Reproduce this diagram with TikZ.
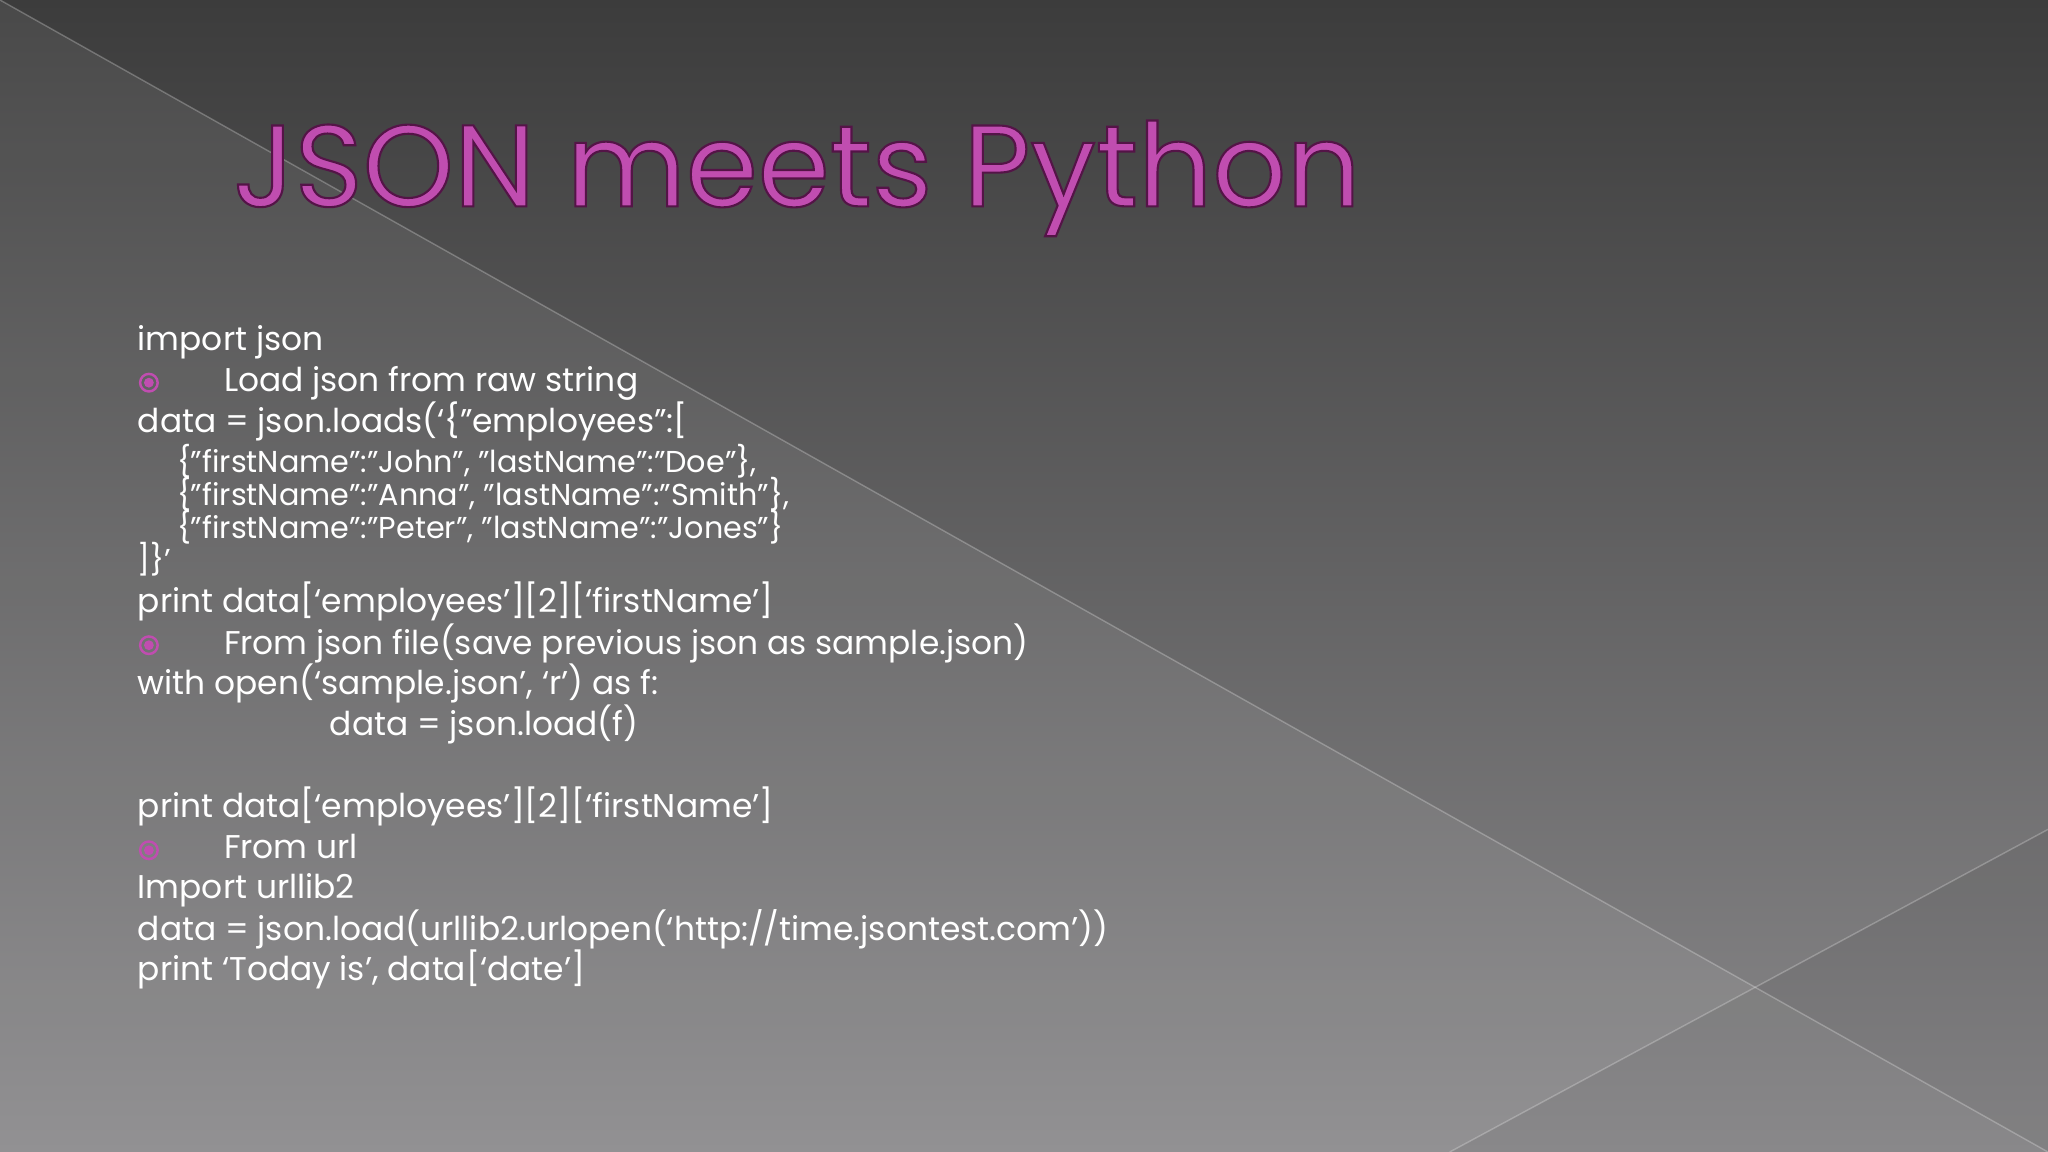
\documentclass[tikz,border=0pt]{standalone}
\usepackage{fontspec}
\setmainfont{Poppins}
\usetikzlibrary{shadings}
\definecolor{mag}{HTML}{C04DB0}
\definecolor{bgtop}{HTML}{3C3C3C}
\definecolor{bgbot}{HTML}{8A898B}
\newcommand\dq{\symbol{34}}
\tikzset{
  body/.style={anchor=base west,text=white,font=\fontsize{9.35}{10}\selectfont,inner sep=0pt},
  small/.style={anchor=base west,text=white,font=\fontsize{8.6}{9}\selectfont,inner sep=0pt},
  bul/.style={circle,draw=mag,line width=0.7pt,minimum size=5pt,inner sep=0pt,path picture={\fill[mag](path picture bounding box.center) circle (1.4pt);}}
}
\begin{document}
\begin{tikzpicture}[x=0.013061cm,y=-0.013061cm]
\useasboundingbox (0,0) rectangle (1568,882);
\shade[top color=bgtop,bottom color=bgbot] (0,0) rectangle (1568,882);
\fill[white,opacity=0.07] (0,0) -- (1568,882) -- (0,882) -- cycle;
\fill[black,opacity=0.06] (1110,882) -- (1568,635) -- (1568,882) -- cycle;
\coordinate (d1) at (0,0); \coordinate (d2) at (1568,882);
\coordinate (e1) at (1110,882); \coordinate (e2) at (1568,635);
\draw[white,opacity=0.25,line width=0.4pt] (d1) -- (d2);
\draw[white,opacity=0.25,line width=0.4pt] (e1) -- (e2);
\node (title) [anchor=base west,inner sep=0pt,font=\fontsize{33}{36}\selectfont,text=mag] at (178,158) {\special{pdf:literal 2 Tr 0.6 w 0.33 0.08 0.28 RG}JSON meets Python\special{pdf:literal 0 Tr}};
\node (l1) [body] at (105,268) {import json};
\node (b1) [bul] at (114,293) {}; \node (l2) [body] at (171,300) {Load json from raw string};
\node (l3) [body] at (105,331) {data = json.loads(‘\{\dq employees\dq:[};
\node (l4) [small] at (135,362) {\{\dq firstName\dq:\dq John\dq, \dq lastName\dq:\dq Doe\dq\},};
\node (l5) [small] at (135,387) {\{\dq firstName\dq:\dq Anna\dq, \dq lastName\dq:\dq Smith\dq\},};
\node (l6) [small] at (135,412) {\{\dq firstName\dq:\dq Peter\dq, \dq lastName\dq:\dq Jones\dq\}};
\node (l7) [small] at (105,437) {]\}’};
\node (l8) [body] at (105,469) {print data[‘employees’][2][‘firstName’]};
\node (b2) [bul] at (114,494) {}; \node (l9) [body] at (171,501) {From json file(save previous json as sample.json)};
\node (l10) [body] at (105,532) {with open(‘sample.json’, ‘r’) as f:};
\node (l11) [body] at (252,563) {data = json.load(f)};
\node (l12) [body] at (105,626) {print data[‘employees’][2][‘firstName’]};
\node (b3) [bul] at (114,651) {}; \node (l13) [body] at (171,657) {From url};
\node (l14) [body] at (105,688) {Import urllib2};
\node (l15) [body] at (105,720) {data = json.load(urllib2.urlopen(‘http://time.jsontest.com’))};
\node (l16) [body] at (105,751) {print ‘Today is’, data[‘date’]};
\end{tikzpicture}
\end{document}
